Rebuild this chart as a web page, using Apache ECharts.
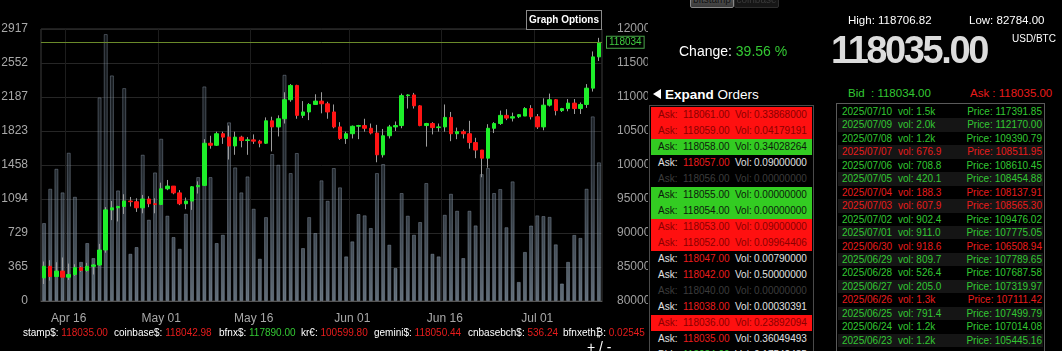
<!DOCTYPE html>
<html>
<head>
<meta charset="utf-8">
<title>BTC chart</title>
<script src="https://cdn.jsdelivr.net/npm/echarts@6/dist/echarts.min.js"></script>
<style>
  html, body { margin: 0; padding: 0; background: #000; width: 1062px; height: 351px; overflow: hidden; }
  body { position: relative; font-family: Arial, "Liberation Sans", sans-serif; color: #fff; }
  #chart { position: absolute; left: 0; top: 0; width: 648px; height: 351px; }
  .abs { position: absolute; white-space: nowrap; }
  .grn { color: #33c833; }
  .red { color: #e81c1c; }
  .btn { position: absolute; top: -9px; height: 15px; font-size: 10px; line-height: 15px; text-align: center; border-radius: 2px; }
  #orders { position: absolute; left: 649px; top: 105px; width: 163px; height: 260px; border: 1px solid #4a4a4a; }
  .orow { position: absolute; left: 1px; width: 161px; height: 16px; font-size: 10px; line-height: 16px; }
  .orow span { position: absolute; top: 0; }
  #trades { position: absolute; left: 836px; top: 103px; width: 207px; height: 260px; border: 1px solid #5a5a5a; }
  .trow { position: absolute; left: 1px; width: 205px; height: 13.45px; font-size: 10px; line-height: 13.45px; }
  .trow span { position: absolute; top: 0; }
  .tick { position: absolute; top: 327px; font-size: 10px; line-height: 12px; white-space: nowrap; color: #fff; }
</style>
</head>
<body>
<div id="chart"></div>

<div class="btn" style="left:690px;width:42px;background:linear-gradient(#666,#3a3a3a);border:1px solid #888;color:#111;">bitstamp</div>
<div class="btn" style="left:734px;width:43px;background:#161616;border:1px solid #2e2e2e;color:#3a3a3a;">coinbase</div>

<div class="abs" style="left:526px;top:10px;width:74px;height:18px;border:1px solid #8a8a8a;background:#000;font-weight:bold;font-size:10px;line-height:18px;text-align:center;">Graph Options</div>

<div class="abs" style="left:679px;top:43px;font-size:14px;line-height:16px;">Change: <span class="grn">39.56 %</span></div>
<div class="abs" style="left:848px;top:13px;font-size:11.5px;line-height:14px;">High: 118706.82</div>
<div class="abs" style="left:969px;top:13px;font-size:11.5px;line-height:14px;">Low: 82784.00</div>
<div class="abs" style="left:831px;top:31px;font-size:38px;line-height:38px;font-weight:bold;letter-spacing:-2.4px;color:#dcdcdc;">118035.00</div>
<div class="abs" style="left:1012px;top:32.5px;font-size:10px;line-height:12px;">USD/BTC</div>

<div class="abs" style="left:653px;top:89px;width:0;height:0;border-top:5px solid transparent;border-bottom:5px solid transparent;border-right:8px solid #fff;"></div>
<div class="abs" style="left:665px;top:87px;font-size:13.5px;line-height:16px;"><b>Expand</b> Orders</div>

<div class="abs grn" style="left:848px;top:86px;font-size:11.5px;line-height:14px;">Bid &nbsp;: 118034.00</div>
<div class="abs red" style="left:970px;top:86px;font-size:11.5px;line-height:14px;">Ask : 118035.00</div>

<div id="orders"></div>
<div id="trades"></div>

<div class="tick" style="left:23px;">stamp$: <span class="red">118035.00</span></div>
<div class="tick" style="left:114px;">coinbase$: <span class="red">118042.98</span></div>
<div class="tick" style="left:219px;">bfnx$: <span class="grn">117890.00</span></div>
<div class="tick" style="left:301px;">kr€: <span class="red">100599.80</span></div>
<div class="tick" style="left:374px;">gemini$: <span class="red">118050.44</span></div>
<div class="tick" style="left:468px;">cnbasebch$: <span class="red">536.24</span></div>
<div class="tick" style="left:563px;">bfnxeth₿: <span class="red">0.02545</span></div>
<div class="abs" style="left:587px;top:339px;font-size:14px;line-height:16px;">+ / -</div>

<script>
// daily candles, Apr 12 - Jul 11
const dates = [
  '04-12','04-13','04-14','04-15','04-16','04-17','04-18','04-19','04-20','04-21',
  '04-22','04-23','04-24','04-25','04-26','04-27','04-28','04-29','04-30','05-01',
  '05-02','05-03','05-04','05-05','05-06','05-07','05-08','05-09','05-10','05-11',
  '05-12','05-13','05-14','05-15','05-16','05-17','05-18','05-19','05-20','05-21',
  '05-22','05-23','05-24','05-25','05-26','05-27','05-28','05-29','05-30','05-31',
  '06-01','06-02','06-03','06-04','06-05','06-06','06-07','06-08','06-09','06-10',
  '06-11','06-12','06-13','06-14','06-15','06-16','06-17','06-18','06-19','06-20',
  '06-21','06-22','06-23','06-24','06-25','06-26','06-27','06-28','06-29','06-30',
  '07-01','07-02','07-03','07-04','07-05','07-06','07-07','07-08','07-09','07-10',
  '07-11'
];
const openP = [
  83400, 85100, 83600, 84400, 83500, 83900, 84900, 84500, 85100, 85300,
  87500, 93400, 93700, 93900, 94700, 94600, 93700, 95000, 94300, 94200,
  96500, 96900, 95900, 94300, 94700, 96800, 97000, 103200, 102900, 104600,
  104100, 102800, 104100, 103600, 103700, 103500, 103200, 106500, 105600, 106800,
  109600, 111700, 107300, 107800, 108900, 109400, 109000, 107800, 105600, 103900,
  104600, 105700, 105800, 105400, 104700, 101500, 104300, 105600, 105800, 110200,
  110300, 108700, 105800, 106100, 105500, 105600, 107000, 104600, 104900, 104600,
  103300, 102200, 101000, 105400, 106100, 107300, 106900, 107100, 107200, 108300,
  107100, 105600, 108800, 109600, 108000, 108300, 109100, 108300, 108900, 111300,
  115900
];
const closeP = [
  85100, 83600, 84400, 83500, 83900, 84900, 84500, 85100, 85300, 87500,
  93400, 93700, 93900, 94700, 94600, 93700, 95000, 94300, 94200, 96500,
  96900, 95900, 94300, 94700, 96800, 97000, 103200, 102900, 104600, 104100,
  102800, 104100, 103600, 103700, 103500, 103200, 106500, 105600, 106800, 109600,
  111700, 107300, 107800, 108900, 109400, 109000, 107800, 105600, 103900, 104600,
  105700, 105800, 105400, 104700, 101500, 104300, 105600, 105800, 110200, 110300,
  108700, 105800, 106100, 105500, 105600, 107000, 104600, 104900, 104600, 103300,
  102200, 101000, 105400, 106100, 107300, 106900, 107100, 107400, 108300, 107100,
  105600, 108800, 109600, 108000, 108300, 109100, 108300, 108900, 111300, 115900,
  118035
];
const lowP = [
  82500, 83000, 83600, 83600, 83100, 83700, 84300, 84300, 83900, 85200,
  87100, 91900, 91700, 92800, 93900, 93100, 92900, 93800, 92900, 94100,
  96300, 95700, 94100, 93500, 93400, 95800, 96900, 102400, 102800, 103100,
  100800, 101500, 102600, 101500, 103100, 102600, 103100, 102000, 104200, 106100,
  109300, 106800, 106900, 106600, 108900, 107600, 106800, 105400, 103700, 103100,
  103900, 103800, 104900, 104500, 100400, 101100, 103900, 105000, 105400, 108300,
  108300, 105700, 102700, 104500, 104900, 104900, 103500, 103800, 103900, 102400,
  101000, 98200, 99600, 104700, 105900, 106600, 106400, 106900, 107200, 106700,
  105300, 105100, 108600, 107300, 107800, 107900, 107500, 107500, 108400, 110800,
  115300
];
const highP = [
  85800, 86000, 85700, 86400, 85500, 85400, 85100, 85600, 85400, 88400,
  93800, 94700, 94000, 95700, 95300, 95100, 95600, 95400, 95100, 97400,
  97800, 96900, 96300, 95200, 96900, 97600, 103800, 104300, 104900, 104900,
  105800, 104900, 104300, 104100, 104500, 103700, 107000, 107100, 107300, 110700,
  111900, 111800, 109400, 109100, 110400, 110700, 109300, 108900, 106300, 104900,
  105800, 105900, 106800, 106100, 105900, 105300, 105900, 106400, 110500, 110400,
  110600, 108800, 106200, 106300, 106100, 108900, 107800, 105500, 105200, 106500,
  104000, 102200, 106000, 106300, 108000, 108200, 107700, 107500, 108500, 108800,
  107500, 109800, 110500, 109700, 108400, 109700, 109700, 109200, 111900, 116700,
  118700
];
const volumes = [
  836, 1204, 1418, 1165, 1590, 1118, 420, 622, 461, 2183,
  2862, 2419, 1186, 2283, 507, 579, 1569, 872, 1379, 1740,
  915, 686, 561, 936, 1150, 1329, 2301, 1329, 622, 711,
  1916, 1433, 1165, 1336, 990, 454, 900, 1576, 1461, 2426,
  1372, 1587, 568, 900, 729, 1294, 1075, 1426, 1219, 479,
  640, 933, 919, 783, 1372, 1469, 604, 354, 1158, 915,
  711, 847, 1265, 507, 479, 925, 1150, 968, 461, 968,
  811, 1361, 1426, 1158, 1201, 791.4, 1283, 205.0, 526.4, 809.7,
  918.6, 911.0, 902.4, 607.9, 188.3, 420.1, 708.8, 676.9, 1204, 1980,
  1487
];
const lastPrice = 118034;

const xTickDates = ['04-16', '05-01', '05-16', '06-01', '06-16', '07-01'];
const xTickLabels = ['Apr 16', 'May 01', 'May 16', 'Jun 01', 'Jun 16', 'Jul 01'];
const volMax = 2916.6;
const volTickLabels = ['0', '365', '729', '1094', '1458', '1823', '2187', '2552', '2917'];

// order book rows: kind = red / green / black / dim / bid
const orderKind = ['red','red','green','black','dim','green','green','red','red','black','black','dim','black','red','black','bid'];
const orderPrice = ['118061.00','118059.00','118058.00','118057.00','118056.00','118055.00','118054.00','118053.00','118052.00','118047.00','118042.00','118040.00','118038.00','118036.00','118035.00','118034.00'];
const orderVol = ['0.33868000','0.04179191','0.34028264','0.09000000','0.00000000','0.00000000','0.00000000','0.09000000','0.09964406','0.00790000','0.50000000','0.00000000','0.00030391','0.23892094','0.36049493','0.17542435'];

// daily trade summary list
const tradeDate = ['2025/07/10','2025/07/09','2025/07/08','2025/07/07','2025/07/06','2025/07/05','2025/07/04','2025/07/03','2025/07/02','2025/07/01','2025/06/30','2025/06/29','2025/06/28','2025/06/27','2025/06/26','2025/06/25','2025/06/24','2025/06/23'];
const tradeVol = ['1.5k','2.0k','1.2k','676.9','708.8','420.1','188.3','607.9','902.4','911.0','918.6','809.7','526.4','205.0','1.3k','791.4','1.2k','1.2k'];
const tradePrice = ['117391.85','112170.00','109390.79','108511.95','108610.45','108454.88','108137.91','108565.30','109476.02','107775.05','106508.94','107789.65','107687.58','107319.97','107111.42','107499.79','107014.08','105445.16'];
const tradeUp = [1,1,1,0,1,1,0,0,1,1,0,1,1,1,0,1,1,1];

const orders = document.getElementById('orders');
orderKind.forEach((k, i) => {
  const row = document.createElement('div');
  row.className = 'orow';
  row.style.top = (1 + i * 16) + 'px';
  let bg = '#000', c1 = '#e0e0e0', c2 = '#e81c1c';
  if (k === 'red') { bg = '#ff1010'; c1 = c2 = '#8a0000'; }
  if (k === 'green') { bg = '#33cc22'; c1 = c2 = '#0c1a0c'; }
  if (k === 'dim') { c1 = c2 = '#3c3c3c'; }
  if (k === 'bid') { c2 = '#33c833'; }
  row.style.background = bg;
  const side = k === 'bid' ? 'Bid:' : 'Ask:';
  row.innerHTML =
    '<span style="left:7px;color:' + c1 + '">' + side + '</span>' +
    '<span style="left:32px;color:' + c2 + '">' + orderPrice[i] + '</span>' +
    '<span style="left:84px;color:' + c1 + '">Vol:</span>' +
    '<span style="left:103px;color:' + c1 + '">' + orderVol[i] + '</span>';
  orders.appendChild(row);
});

const trades = document.getElementById('trades');
tradeDate.forEach((d, i) => {
  const row = document.createElement('div');
  row.className = 'trow';
  row.style.top = (1 + i * 13.45) + 'px';
  row.style.background = i % 2 ? '#151515' : '#000';
  row.style.color = tradeUp[i] ? '#33c833' : '#e81c1c';
  row.innerHTML =
    '<span style="left:4px">' + d + '</span>' +
    '<span style="left:60px">vol: ' + tradeVol[i] + '</span>' +
    '<span style="right:1px">Price: ' + tradePrice[i] + '</span>';
  trades.appendChild(row);
});

const chart = echarts.init(document.getElementById('chart'));

const showTick = (idx, val) => xTickDates.indexOf(val) >= 0;

chart.setOption({
  animation: false,
  backgroundColor: '#000',
  grid: { left: 41, top: 29, width: 561, height: 272, outerBoundsMode: 'none', containLabel: false,
    show: true, borderColor: '#3c3c3c', borderWidth: 1, backgroundColor: 'transparent' },
  xAxis: {
    type: 'category',
    data: dates,
    boundaryGap: true,
    axisLine: { lineStyle: { color: '#555' } },
    axisTick: { show: false },
    axisLabel: {
      interval: showTick,
      formatter: v => xTickLabels[xTickDates.indexOf(v)],
      color: '#a8a8a8',
      fontSize: 12,
      margin: 12,
      fontFamily: 'Arial'
    },
    splitLine: { show: true, interval: showTick, lineStyle: { color: '#1d1d1d' } }
  },
  yAxis: [
    {
      type: 'value',
      position: 'left',
      min: 0,
      max: volMax,
      interval: volMax / 8,
      axisLine: { show: false },
      axisTick: { show: false },
      axisLabel: { color: '#a8a8a8', fontSize: 12, margin: 13, fontFamily: 'Arial',
        formatter: (v, i) => volTickLabels[i] },
      splitLine: { lineStyle: { color: '#262626' } }
    },
    {
      type: 'value',
      position: 'right',
      min: 80000,
      max: 120000,
      interval: 5000,
      axisLine: { show: false },
      axisTick: { show: false },
      axisLabel: { color: '#a0a0a0', fontSize: 12, margin: 15, fontFamily: 'Arial', formatter: v => String(v) },
      splitLine: { show: false }
    }
  ],
  series: [
    {
      name: 'volume',
      type: 'bar',
      yAxisIndex: 0,
      data: volumes,
      barWidth: 4,
      z: 1,
      itemStyle: {
        color: new echarts.graphic.LinearGradient(0, 29, 0, 301, [
          { offset: 0, color: 'rgba(60, 70, 80, 0.3)' },
          { offset: 0.5, color: 'rgba(80, 94, 108, 0.42)' },
          { offset: 1, color: 'rgba(135, 152, 168, 0.72)' }
        ], true),
        borderColor: 'rgba(150, 166, 182, 0.4)',
        borderWidth: 1
      }
    },
    {
      name: 'wick',
      type: 'candlestick',
      yAxisIndex: 1,
      data: dates.map((d, i) => [openP[i], closeP[i], lowP[i], highP[i]]),
      barWidth: 1,
      z: 3,
      itemStyle: { color: '#9c9c9c', color0: '#9c9c9c', borderColor: '#9c9c9c', borderColor0: '#9c9c9c', borderColorDoji: '#9c9c9c', borderWidth: 1 }
    },
    {
      name: 'body',
      type: 'candlestick',
      yAxisIndex: 1,
      data: dates.map((d, i) => [openP[i], closeP[i], Math.min(openP[i], closeP[i]), Math.max(openP[i], closeP[i])]),
      barWidth: 4,
      z: 4,
      itemStyle: { color: '#1eef2a', color0: '#ff1414', borderColor: '#1eef2a', borderColor0: '#ff1414', borderColorDoji: '#1eef2a', borderWidth: 1 },
      markLine: {
        silent: true,
        symbol: ['none', 'none'],
        lineStyle: { color: '#6a8a2a', width: 1, type: 'solid' },
        label: {
          position: 'end',
          formatter: String(lastPrice),
          color: '#3fcc3f',
          fontSize: 10,
          fontFamily: 'Arial',
          backgroundColor: '#000',
          borderColor: '#4aa64a',
          borderWidth: 1,
          padding: [1, 2, 0, 2],
          distance: 5
        },
        data: [{ yAxis: lastPrice }]
      }
    }
  ]
});
</script>
</body>
</html>
